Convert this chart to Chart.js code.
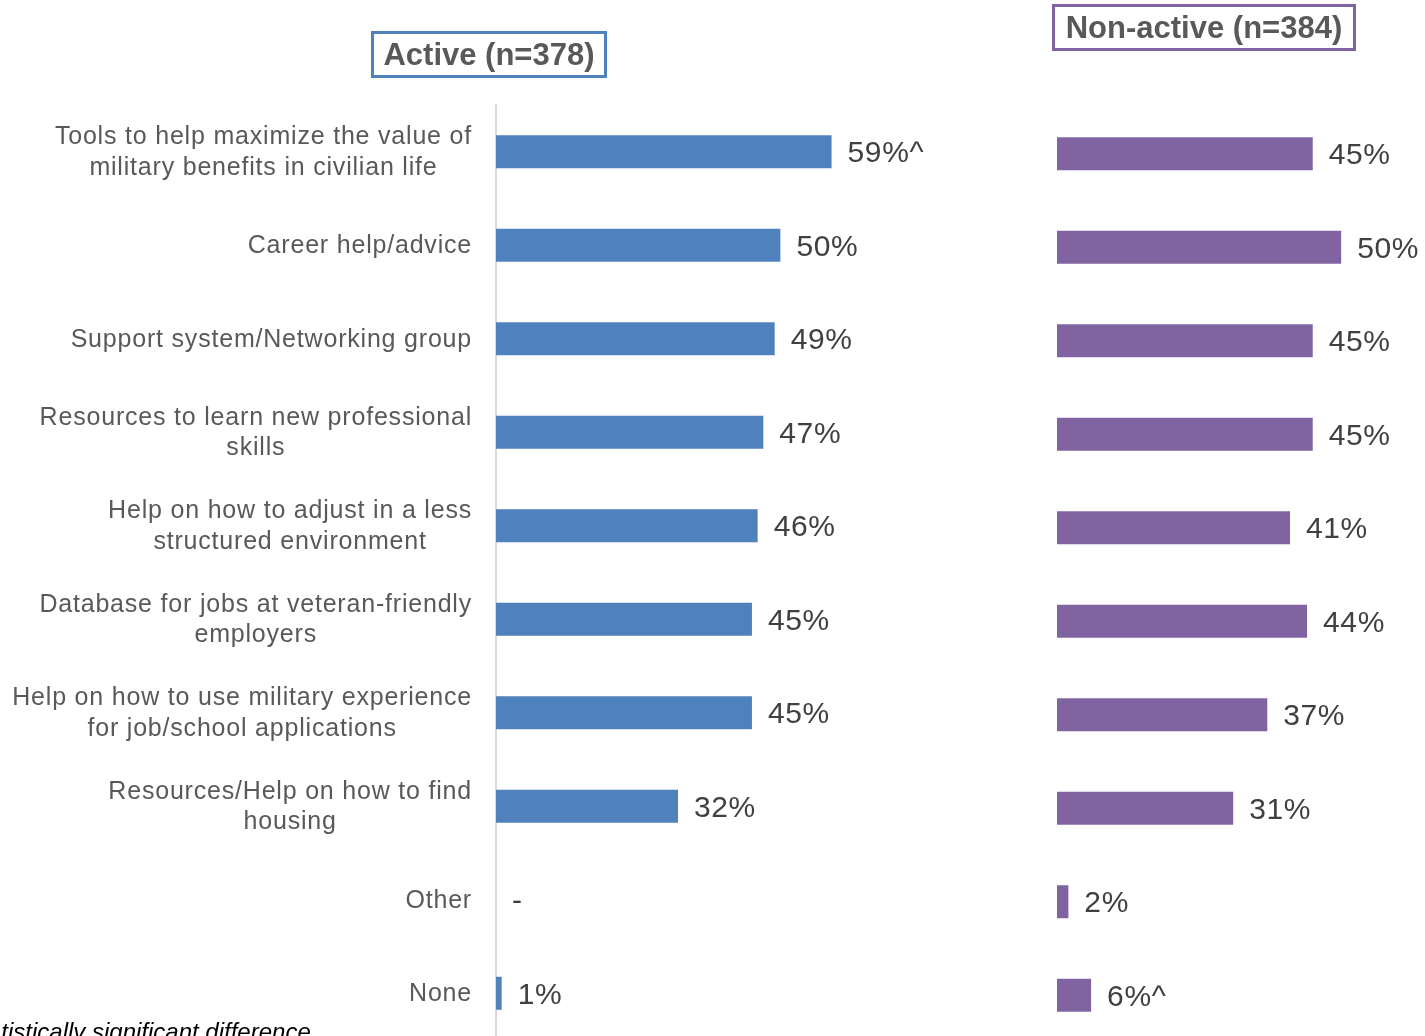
<!DOCTYPE html>
<html>
<head>
    <title>Transition resources</title>
    <script src="https://cdn.jsdelivr.net/npm/chart.js"></script>
    <style>
        html, body { margin: 0; padding: 0; background: #fff; overflow: hidden; }
        #wrap { position: relative; width: 1425px; height: 1036px; overflow: hidden; }
        .panel { position: absolute; }
        .title {
            position: absolute;
            font-family: "Liberation Sans", Arial, sans-serif;
            font-weight: bold;
            font-size: 31px;
            color: #595959;
            border: 3px solid;
            box-sizing: border-box;
            text-align: center;
            line-height: 41px;
            white-space: nowrap;
        }
        #titleActive { left: 371px; top: 31px; width: 236px; height: 47px; border-color: #4f81bd; }
        #titleNon { left: 1052px; top: 4px; width: 304px; height: 47px; border-color: #8064a2; }
        #note {
            position: absolute;
            left: -46px;
            top: 1018px;
            font-family: "Liberation Sans", Arial, sans-serif;
            font-style: italic;
            font-size: 24px;
            color: #000;
            white-space: nowrap;
        }
    </style>
</head>
<body>
    <div id="wrap">
        <div class="panel" style="left:0;top:0;width:1000px;height:1045px"><canvas id="activeChart"></canvas></div>
        <div class="panel" style="left:1000px;top:2px;width:425px;height:1045px"><canvas id="nonActiveChart"></canvas></div>
        <div class="title" id="titleActive">Active (n=378)</div>
        <div class="title" id="titleNon">Non-active (n=384)</div>
        <div id="note">^Statistically significant difference</div>
    </div>

    <script>
        // 数据
        const categories = [
            ['Tools to help maximize the value of', 'military benefits in civilian life'],
            ['Career help/advice'],
            ['Support system/Networking group'],
            ['Resources to learn new professional', 'skills'],
            ['Help on how to adjust in a less', 'structured environment'],
            ['Database for jobs at veteran-friendly', 'employers'],
            ['Help on how to use military experience', 'for job/school applications'],
            ['Resources/Help on how to find', 'housing'],
            ['Other'],
            ['None']
        ];
        const activeValues = [59, 50, 49, 47, 46, 45, 45, 32, null, 1];
        const nonActiveValues = [45, 50, 45, 45, 41, 44, 37, 31, 2, 6];
        // ^ = statistically significant
        const activeSig = [true, false, false, false, false, false, false, false, false, false];
        const nonActiveSig = [false, false, false, false, false, false, false, false, false, true];

        const FONT = '"Liberation Sans", Arial, sans-serif';

        // 数值标签
        function valueLabels(sig) {
            return {
                id: 'valueLabels',
                afterDatasetsDraw(chart) {
                    const ctx = chart.ctx;
                    const meta = chart.getDatasetMeta(0);
                    const values = chart.data.datasets[0].data;
                    const x0 = chart.scales.x.getPixelForValue(0);
                    ctx.save();
                    ctx.font = '30px ' + FONT;
                    ctx.fillStyle = '#404040';
                    ctx.textAlign = 'left';
                    ctx.textBaseline = 'middle';
                    ctx.letterSpacing = '0.6px';
                    meta.data.forEach((bar, i) => {
                        const v = values[i];
                        const text = v == null ? '-' : v + '%' + (sig[i] ? '^' : '');
                        const x = v == null ? x0 : bar.x;
                        ctx.fillText(text, x + 16, bar.y + 2);
                    });
                    ctx.restore();
                }
            };
        }

        // 分类标签（多行居中，整体右对齐）
        const categoryLabels = {
            id: 'categoryLabels',
            afterDraw(chart) {
                const ctx = chart.ctx;
                const yScale = chart.scales.y;
                const right = chart.chartArea.left - 24;
                const lineH = 30.5;
                ctx.save();
                ctx.font = '25px ' + FONT;
                ctx.fillStyle = '#595959';
                ctx.textAlign = 'center';
                ctx.textBaseline = 'middle';
                ctx.letterSpacing = '0.8px';
                categories.forEach((lines, i) => {
                    const cy = yScale.getPixelForTick(i);
                    const w = Math.max(...lines.map(l => ctx.measureText(l).width));
                    const cx = right - w / 2;
                    lines.forEach((l, k) => {
                        ctx.fillText(l, cx, cy + 1 + (k - (lines.length - 1) / 2) * lineH);
                    });
                });
                ctx.restore();
            }
        };

        function makeChart(id, values, color, sig, opts) {
            return new Chart(document.getElementById(id), {
                type: 'bar',
                data: {
                    labels: categories,
                    datasets: [{
                        data: values,
                        backgroundColor: color,
                        barPercentage: 0.353,
                        categoryPercentage: 1
                    }]
                },
                options: {
                    indexAxis: 'y',
                    responsive: true,
                    maintainAspectRatio: false,
                    animation: false,
                    layout: { padding: opts.padding },
                    scales: {
                        x: { display: false, min: 0, max: opts.max },
                        y: opts.y
                    },
                    plugins: {
                        legend: { display: false },
                        tooltip: { enabled: false }
                    }
                },
                plugins: opts.plugins.concat([valueLabels(sig)])
            });
        }

        makeChart('activeChart', activeValues, '#4f81bd', activeSig, {
            max: 80,
            padding: { top: 105, bottom: 5, right: 49, left: 0 },
            y: {
                grid: { display: false, drawTicks: false },
                border: { display: true, color: '#d9d9d9', width: 2 },
                ticks: { display: false },
                afterFit: scale => { scale.width = 496; }
            },
            plugins: [categoryLabels]
        });

        makeChart('nonActiveChart', nonActiveValues, '#8064a2', nonActiveSig, {
            max: 60,
            padding: { top: 105, bottom: 5, right: 27, left: 57 },
            y: { display: false },
            plugins: []
        });
    </script>
</body>
</html>
